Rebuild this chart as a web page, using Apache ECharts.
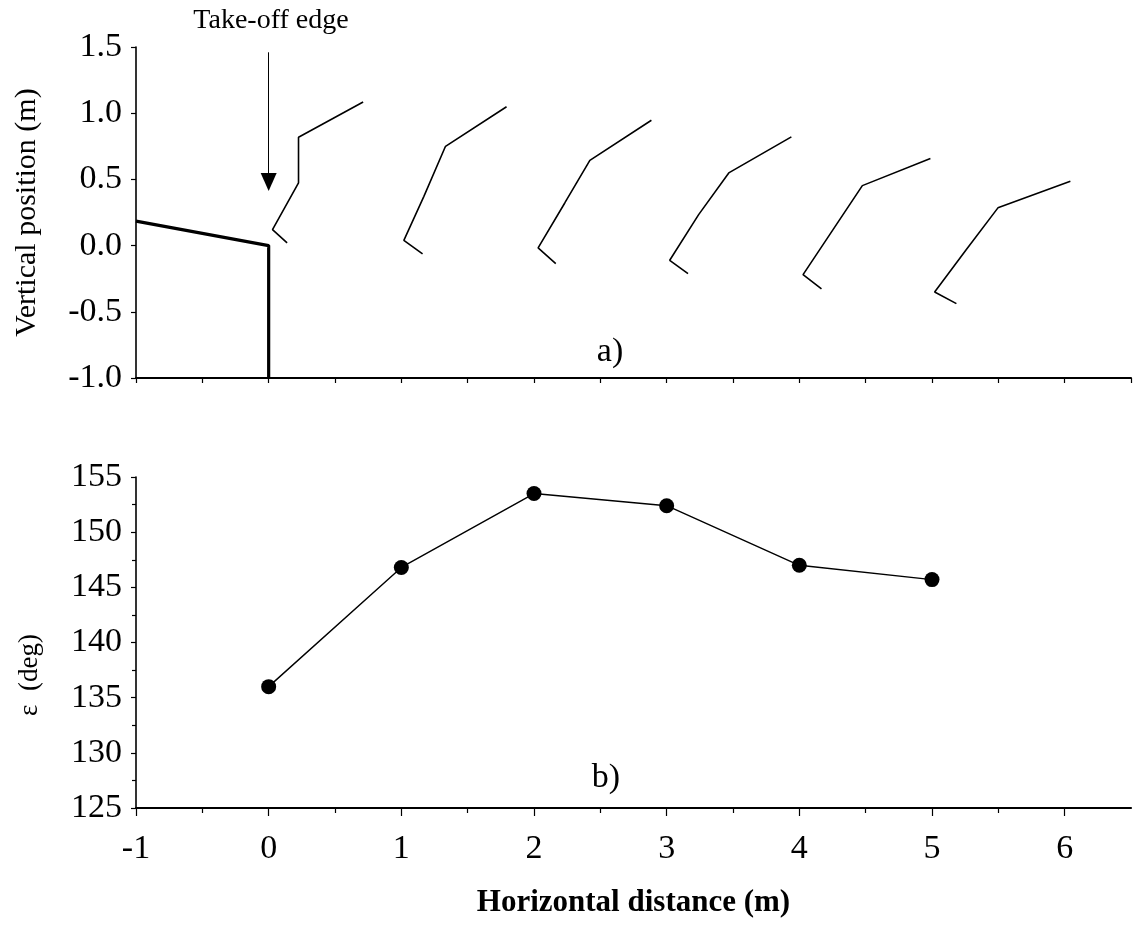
<!DOCTYPE html>
<html>
<head>
<meta charset="utf-8">
<script src="https://cdn.jsdelivr.net/npm/echarts@6/dist/echarts.min.js"></script>
<style>
  html, body { margin: 0; padding: 0; background: #fff; }
  #chart { width: 1134px; height: 931px; }
</style>
</head>
<body>
<div id="chart"></div>
<script>
// ramp (take-off edge) outline
const ramp = [[-1, 0.185], [0, 0], [0, -1]];
// arrow pointing at the edge
const arrowFrom = [0, 1.46];
const arrowTo = [0, 0.48];

// stick figures: trunk top, hip, knee, ankle, toe
const figure1 = [[0.712, 1.085], [0.225, 0.818], [0.225, 0.474], [0.029, 0.121], [0.139, 0.020]];
const figure2 = [[1.793, 1.049], [1.333, 0.750], [1.170, 0.372], [1.019, 0.040], [1.160, -0.063]];
const figure3 = [[2.885, 0.947], [2.421, 0.644], [2.232, 0.322], [2.031, -0.017], [2.164, -0.136]];
const figure4 = [[3.940, 0.821], [3.468, 0.549], [3.241, 0.234], [3.023, -0.111], [3.161, -0.211]];
const figure5 = [[4.988, 0.657], [4.475, 0.453], [4.254, 0.121], [4.028, -0.219], [4.167, -0.327]];
const figure6 = [[6.043, 0.486], [5.497, 0.285], [5.259, -0.030], [5.020, -0.350], [5.184, -0.438]];

// panel b: angle epsilon vs horizontal distance
const distance = [0, 1, 2, 3, 4, 5];
const epsilon = [136.0, 146.8, 153.5, 152.4, 147.0, 145.7];

const xTicks = [-1, 0, 1, 2, 3, 4, 5, 6];
const xMinorTicks = [-0.5, 0.5, 1.5, 2.5, 3.5, 4.5, 5.5];

const font = 'Liberation Serif';
const black = '#000';

const chart = echarts.init(document.getElementById('chart'));

const figureSeries = [figure1, figure2, figure3, figure4, figure5, figure6].map((f, i) => ({
  name: 'figure' + (i + 1),
  type: 'line',
  xAxisIndex: 0,
  yAxisIndex: 0,
  data: f,
  symbol: 'none',
  lineStyle: { color: black, width: 1.6 },
  silent: true
}));

const option = {
  backgroundColor: '#fff',
  animation: false,
  textStyle: { fontFamily: font, color: black },
  grid: [
    { left: 136, right: 3, top: 47, height: 331, outerBoundsMode: 'none' },
    { left: 136, right: 3, top: 477, height: 331, outerBoundsMode: 'none' }
  ],
  xAxis: [
    {
      gridIndex: 0, type: 'value', min: -1, max: 6.5, interval: 0.5, position: 'bottom',
      axisLine: { onZero: false, lineStyle: { color: black, width: 2 } },
      axisTick: { length: 5, lineStyle: { color: black, width: 1.2 } },
      axisLabel: { show: false },
      splitLine: { show: false }
    },
    {
      gridIndex: 1, type: 'value', min: -1, max: 6.5, interval: 1, position: 'bottom',
      name: 'Horizontal distance (m)', nameLocation: 'middle', nameGap: 79,
      nameTextStyle: { fontFamily: font, fontSize: 31, fontWeight: 'bold', color: black },
      axisLine: { onZero: false, lineStyle: { color: black, width: 2.2 } },
      axisTick: { length: 8, customValues: xTicks, lineStyle: { color: black, width: 1.2 } },
      axisLabel: { customValues: xTicks, margin: 24, fontSize: 34, fontFamily: font, color: black },
      splitLine: { show: false }
    },
    {
      gridIndex: 1, type: 'value', min: -1, max: 6.5, interval: 0.5, position: 'bottom',
      axisLine: { show: false, onZero: false },
      axisTick: { show: true, length: 5, customValues: xMinorTicks, lineStyle: { color: black, width: 1.2 } },
      axisLabel: { show: false },
      splitLine: { show: false }
    }
  ],
  yAxis: [
    {
      gridIndex: 0, type: 'value', min: -1, max: 1.5, interval: 0.5, position: 'left',
      name: 'Vertical position (m)', nameLocation: 'middle', nameGap: 94,
      nameTextStyle: { fontFamily: font, fontSize: 30, color: black },
      axisLine: { show: true, onZero: false, lineStyle: { color: black, width: 1.6 } },
      axisTick: { show: true, length: 5, lineStyle: { color: black, width: 1.2 } },
      axisLabel: { margin: 14, fontSize: 34, fontFamily: font, color: black,
        formatter: v => v.toFixed(1) },
      splitLine: { show: false }
    },
    {
      gridIndex: 1, type: 'value', min: 125, max: 155, interval: 5, position: 'left',
      axisLine: { show: true, onZero: false, lineStyle: { color: black, width: 1.6 } },
      axisTick: { show: true, length: 5, lineStyle: { color: black, width: 1.2 } },
      minorTick: { show: true, splitNumber: 2, length: 4, lineStyle: { color: black, width: 1.2 } },
      axisLabel: { margin: 14, fontSize: 34, fontFamily: font, color: black },
      splitLine: { show: false }
    }
  ],
  graphic: [
    {
      type: 'text', x: 30, y: 675, rotation: Math.PI / 2,
      style: { text: 'ε  (deg)', font: '27px "Liberation Serif"', fill: black,
        align: 'center', verticalAlign: 'middle' }
    },
    {
      type: 'text', x: 271, y: 21,
      style: { text: 'Take-off edge', font: '28px "Liberation Serif"', fill: black,
        align: 'center', verticalAlign: 'middle' }
    },
    {
      type: 'text', x: 610, y: 352,
      style: { text: 'a)', font: '34px "Liberation Serif"', fill: black,
        align: 'center', verticalAlign: 'middle' }
    },
    {
      type: 'text', x: 606, y: 778,
      style: { text: 'b)', font: '34px "Liberation Serif"', fill: black,
        align: 'center', verticalAlign: 'middle' }
    }
  ],
  series: [
    {
      name: 'ramp', type: 'line', xAxisIndex: 0, yAxisIndex: 0,
      data: ramp, symbol: 'none',
      lineStyle: { color: black, width: 3.2 },
      silent: true,
      markLine: {
        silent: true,
        symbol: ['none', 'triangle'],
        symbolSize: [16, 18],
        label: { show: false },
        lineStyle: { color: black, width: 1, type: 'solid' },
        data: [[{ coord: arrowFrom }, { coord: arrowTo }]]
      }
    },
    ...figureSeries,
    {
      name: 'epsilon', type: 'line', xAxisIndex: 1, yAxisIndex: 1,
      data: distance.map((d, i) => [d, epsilon[i]]),
      symbol: 'circle', symbolSize: 15,
      itemStyle: { color: black },
      lineStyle: { color: black, width: 1.4 }
    }
  ]
};

chart.setOption(option);
window.addEventListener('resize', () => chart.resize());
</script>
</body>
</html>
